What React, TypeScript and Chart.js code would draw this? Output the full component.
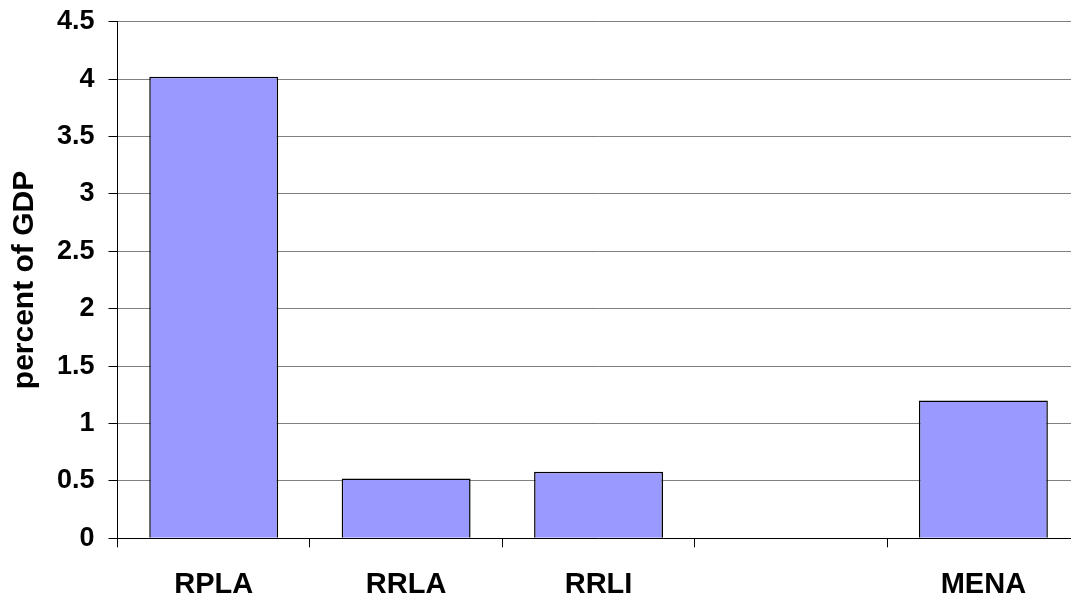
import React, { useEffect, useRef } from "react";
import { Chart, registerables } from "chart.js";

Chart.register(...registerables);

const categories = ["RPLA", "RRLA", "RRLI", "", "MENA"];
const values: (number | null)[] = [4.02, 0.52, 0.58, null, 1.2];
const yTitle = "percent of GDP";

const CANVAS_W = 1090;
const CANVAS_H = 595;
const FONT = "'Liberation Sans', Arial, sans-serif";

export default function App() {
  const ref = useRef<HTMLCanvasElement | null>(null);

  useEffect(() => {
    if (!ref.current) return;
    const chart = new Chart(ref.current, {
      type: "bar",
      data: {
        labels: categories,
        datasets: [
          {
            data: values,
            backgroundColor: "#9999FF",
            borderColor: "#000000",
            borderWidth: 1.5,
            barPercentage: 0.67,
            categoryPercentage: 1,
          },
        ],
      },
      options: {
        animation: false,
        responsive: false,
        devicePixelRatio: 1,
        layout: { padding: { left: 0, top: 21.7, right: CANVAS_W - 1079.6, bottom: 0 } },
        plugins: {
          legend: { display: false },
          tooltip: { enabled: false },
          title: { display: false },
        },
        scales: {
          x: {
            grid: {
              offset: true,
              drawOnChartArea: false,
              drawTicks: true,
              tickLength: 9,
              color: "#000000",
              lineWidth: 1,
            },
            border: { display: true, color: "#000000", width: 1 },
            ticks: {
              color: "#000000",
              padding: 20,
              maxRotation: 0,
              autoSkip: false,
              font: { family: FONT, size: 29, weight: "bold" },
            },
            afterFit: (scale: any) => {
              scale.height = CANVAS_H - 538.3;
              scale.paddingLeft = 0;
              scale.paddingRight = 0;
            },
          },
          y: {
            min: 0,
            max: 4.5,
            ticks: {
              stepSize: 0.5,
              color: "#000000",
              padding: 14,
              font: { family: FONT, size: 27, weight: "bold" },
              callback: (v: any) => String(Number(v)),
            },
            grid: {
              color: "#808080",
              lineWidth: 1,
              drawTicks: true,
              tickLength: 9,
              tickColor: "#000000",
            },
            border: { display: true, color: "#000000", width: 1 },
            title: {
              display: true,
              text: yTitle,
              color: "#000000",
              padding: { top: 7, bottom: 0 },
              font: { family: FONT, size: 30, weight: "bold" },
            },
            afterFit: (scale: any) => {
              scale.width = 117.5;
              scale.paddingTop = 0;
              scale.paddingBottom = 0;
            },
          },
        },
      },
    });
    return () => chart.destroy();
  }, []);

  return (
    <div
      style={{
        position: "fixed",
        left: 0,
        top: 0,
        width: 1071,
        height: 595,
        overflow: "hidden",
        background: "#ffffff",
      }}
    >
      <canvas
        ref={ref}
        width={CANVAS_W}
        height={CANVAS_H}
        style={{ display: "block", width: CANVAS_W, height: CANVAS_H }}
      />
    </div>
  );
}
